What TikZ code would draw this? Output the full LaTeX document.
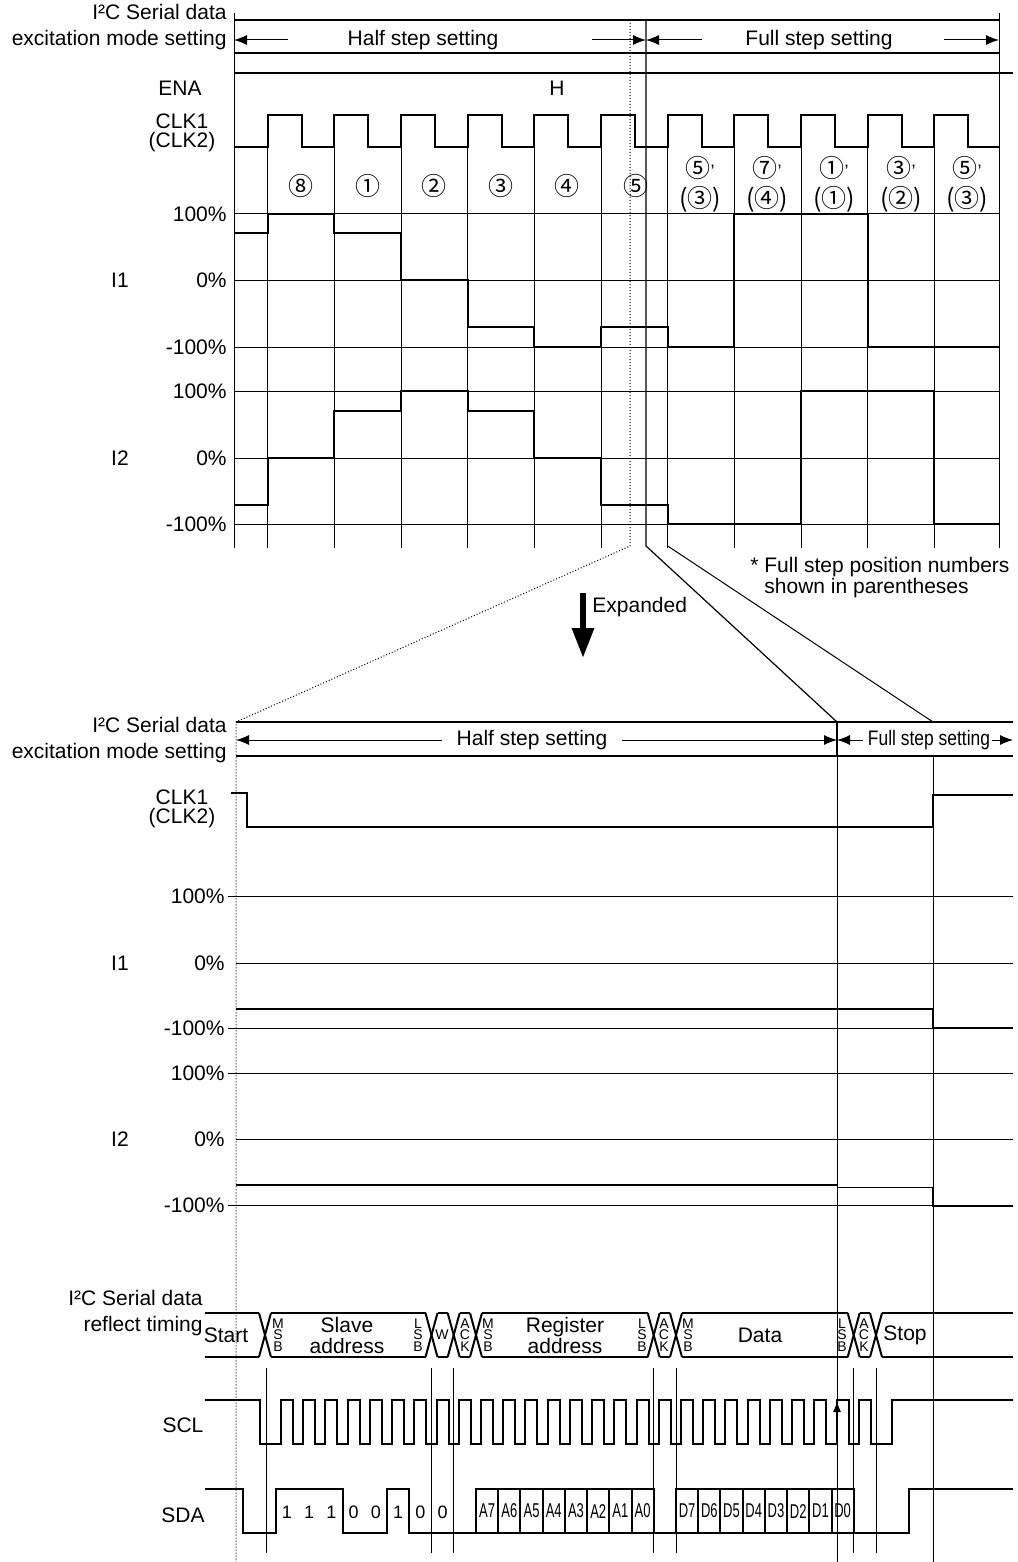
\documentclass[tikz,border=0pt]{standalone}
\usepackage{fontspec}
\setmainfont{Liberation Sans}
\newfontfamily\cjkfont{Noto Sans CJK JP}
\usetikzlibrary{arrows.meta}

\begin{document}
\begin{tikzpicture}[x=0.5pt,y=-0.5pt,
  wave/.style={line width=1pt},
  grid/.style={line width=0.5pt},
  dots/.style={line width=0.5pt,dash pattern=on 0.5pt off 1pt},
  lbl/.style={font=\fontsize{10.5}{13}\selectfont,inner sep=0pt},
  clklbl/.style={font=\fontsize{10.5}{9.2}\selectfont,align=center,inner sep=0pt},
  circnum/.style={font=\cjkfont\fontsize{12.5}{12.5}\selectfont,inner sep=0pt},
  tiny/.style={font=\fontsize{7}{5.6}\selectfont,align=center,inner sep=0pt},
  boxtxt/.style={font=\fontsize{10}{10}\selectfont,inner sep=0pt},
  tip/.style={-{Latex[length=6.5pt,width=5pt]}}]
\useasboundingbox[fill=white] (0,0) rectangle (1017,1562);

% ---------------- upper chart ----------------
\draw[grid] (234,13) -- (234,548);
\draw[grid] (999,13) -- (999,548);
\draw[wave] (234,20) -- (999,20);
\draw[wave] (234,53) -- (999,53);
\draw[wave] (234,73) -- (1013,73);
\node[lbl,align=right,anchor=east] (hdr) at (227,27) {I²C Serial data\\excitation mode setting};
\node[lbl] (half) at (423,40) {Half step setting};
\node[lbl] (full) at (819,40) {Full step setting};
\draw[grid,tip] (288,40) -- (234,40);
\draw[grid,tip] (592,40) -- (646,40);
\draw[grid,tip] (702,40) -- (646,40);
\draw[grid,tip] (944,40) -- (999,40);
\node[lbl] (ena) at (180,88) {ENA};
\node[lbl] (enah) at (557,88) {H};
\node[clklbl] (clk) at (182,133) {CLK1\\(CLK2)};

% clock
\draw[wave] (234,147) foreach \k in {0,...,10} {
  -- ({267.7+66.67*\k},147) -- ({267.7+66.67*\k},115)
  -- ({301.7+66.67*\k},115) -- ({301.7+66.67*\k},147) } -- (999,147);
\foreach \k in {0,...,10}
  \draw[grid] ({267.7+66.67*\k},147) -- ({267.7+66.67*\k},548);

% current grid
\foreach \y in {214,280,347,391,458,524}
  \draw[grid] (234,\y) -- (999,\y);
\foreach \y/\t in {214/100\%,280/0\%,347/-100\%,391/100\%,458/0\%,524/-100\%}
  \node[lbl,anchor=east] (u\y) at (227,\y) {\t};
\node[lbl] (ui1) at (120,280) {I1};
\node[lbl] (ui2) at (120,458) {I2};

% step numbers
\foreach \x/\n in {301/⑧,368/①,434/②,501/③,567/④,636/⑤}
  \node[circnum] (h\x) at (\x,186) {\n};
\foreach \x/\a/\b in {700/⑤/③,767/⑦/④,834/①/①,901/③/②,967/⑤/③} {
  \node[circnum] (f\x) at (\x-2,168) {\a\rlap{\normalfont\fontsize{9}{9}\selectfont ’}};
  \node[circnum] (g\x) at (\x,199) {(\b)};
}

% I1
\draw[wave] (234,233) -- (267.7,233) -- (267.7,214) -- (334.3,214) -- (334.3,233)
  -- (401,233) -- (401,280) -- (467.7,280) -- (467.7,327) -- (534.3,327)
  -- (534.3,347) -- (601,347) -- (601,327) -- (667.7,327) -- (667.7,347)
  -- (734.3,347) -- (734.3,214) -- (867.7,214) -- (867.7,347) -- (999,347);
% I2
\draw[wave] (234,505) -- (267.7,505) -- (267.7,458) -- (334.3,458) -- (334.3,411)
  -- (401,411) -- (401,391) -- (467.7,391) -- (467.7,411) -- (534.3,411)
  -- (534.3,458) -- (601,458) -- (601,505) -- (667.7,505) -- (667.7,524)
  -- (801,524) -- (801,391) -- (934.3,391) -- (934.3,524) -- (999,524);

% zoom lines
\draw[dots] (630,20) -- (630,546) -- (236,722) -- (236,1562);
\draw[line width=0.6pt] (646,20) -- (646,546) -- (837,722);
\draw[grid] (667.7,546) -- (933,722);

\node[lbl,align=left,anchor=west,font=\fontsize{10.5}{10.5}\selectfont] (note) at (750,578)
  {* Full step position numbers\\\hphantom{* }shown in parentheses};
\draw[line width=3pt,-{Triangle[length=15pt,width=10.5pt]}] (583,593) -- (583,658);
\node[lbl,anchor=west] (exp) at (592,607) {Expanded};

% ---------------- expanded chart ----------------
\draw[wave] (236,722) -- (1013,722);
\draw[wave] (236,756) -- (1013,756);
\node[lbl,align=right,anchor=east] (hdr2) at (227,740) {I²C Serial data\\excitation mode setting};
\node[lbl] (half2) at (532,740) {Half step setting};
\node[lbl] (full2) at (929,740) {\scalebox{0.83}[1]{Full step setting}};
\draw[grid,tip] (442,740) -- (236,740);
\draw[grid,tip] (622,740) -- (837,740);
\draw[grid,tip] (863,740) -- (837,740);
\draw[grid,tip] (992,740) -- (1013,740);
\draw[line width=1pt] (837,722) -- (837,756);
\draw[grid] (837,756) -- (837,1562);
\draw[grid] (933,756) -- (933,1562);

\node[clklbl] (clkb) at (182,809) {CLK1\\(CLK2)};
\draw[wave] (231,793) -- (247,793) -- (247,827) -- (933,827) -- (933,795) -- (1013,795);

\foreach \y/\s in {896/228,963/236,1028/228,1073/228,1139/236,1205/228}
  \draw[grid] (\s,\y) -- (1013,\y);
\foreach \y/\t in {896/100\%,963/0\%,1028/-100\%,1073/100\%,1139/0\%,1205/-100\%}
  \node[lbl,anchor=east] (b\y) at (225,\y) {\t};
\node[lbl] (bi1) at (120,963) {I1};
\node[lbl] (bi2) at (120,1139) {I2};

\draw[wave] (236,1009) -- (933,1009) -- (933,1028) -- (1013,1028);
\draw[wave] (236,1185) -- (837,1185);
\draw[grid] (837,1187) -- (933,1187);
\draw[wave] (933,1187) -- (933,1206) -- (1013,1206);

% ---------------- I2C frame ----------------
\node[lbl,align=right,anchor=east] (hdr3) at (203,1313) {I²C Serial data\\reflect timing};
\foreach \c in {265,431.5,453.7,476,653.7,676,853.7,876} {
  \draw[wave] ({\c-6},1313) -- ({\c+6},1357);
  \draw[wave] ({\c-6},1357) -- ({\c+6},1313);
}
\foreach \a/\b in {205/259,271/425.5,437.5/447.7,459.7/470,482/647.7,659.7/670,682/847.7,859.7/870,882/1013} {
  \draw[wave] (\a,1313) -- (\b,1313);
  \draw[wave] (\a,1357) -- (\b,1357);
}
\node[lbl] (start) at (226,1335) {Start};
\node[lbl,align=center,font=\fontsize{10.5}{10.5}\selectfont] (slave) at (347,1335) {Slave\\address};
\node[lbl,align=center,font=\fontsize{10.5}{10.5}\selectfont] (reg) at (565,1335) {Register\\address};
\node[lbl] (data) at (760,1335) {Data};
\node[lbl] (stop) at (905,1335) {Stop};
\node[tiny] (w) at (442,1335) {W};
\foreach \x/\t in {278/M\\S\\B,418/L\\S\\B,465/A\\C\\K,488/M\\S\\B,642/L\\S\\B,664/A\\C\\K,688/M\\S\\B,842/L\\S\\B,864/A\\C\\K}
  \node[tiny] (m\x) at (\x,1335) {\t};

\foreach \x in {266,431.5,453.7,653.7,676,853.7,876}
  \draw[grid] (\x,1368) -- (\x,1553);

% SCL
\node[lbl] (scl) at (183,1425) {SCL};
\draw[wave] (205,1400) -- (260,1400) -- (260,1444) foreach \k in {0,...,26} {
  -- ({281+22.22*\k},1444) -- ({281+22.22*\k},1400)
  -- ({293+22.22*\k},1400) -- ({293+22.22*\k},1444) } -- (892,1444) -- (892,1400) -- (1013,1400);
\draw[grid,-{Latex[length=5.5pt,width=4pt]}] (837,1444) -- (837,1401);

% SDA
\node[lbl] (sda) at (183,1515) {SDA};
\draw[wave] (205,1489) -- (243,1489) -- (243,1533) -- (276,1533) -- (276,1489)
  -- (342.6,1489) -- (342.6,1533) -- (387,1533) -- (387,1489) -- (409.3,1489)
  -- (409.3,1533) -- (909,1533) -- (909,1489) -- (1013,1489);
\foreach \b [count=\i from 0] in {1,1,1,0,0,1,0,0}
  \node[lbl,font=\fontsize{9}{9}\selectfont] (bit\i) at ({287+22.22*\i},1512) {\b};
\foreach \t [count=\i from 0] in {A7,A6,A5,A4,A3,A2,A1,A0} {
  \draw[wave] ({476+22.22*\i},1533) rectangle ({498.2+22.22*\i},1489);
  \node[boxtxt] (ra\i) at ({487.1+22.22*\i},1511) {\scalebox{0.65}[1]{\t}};
}
\foreach \t [count=\i from 0] in {D7,D6,D5,D4,D3,D2,D1,D0} {
  \draw[wave] ({676+22.22*\i},1533) rectangle ({698.2+22.22*\i},1489);
  \node[boxtxt] (rd\i) at ({687.1+22.22*\i},1511) {\scalebox{0.65}[1]{\t}};
}
\end{tikzpicture}
\end{document}
